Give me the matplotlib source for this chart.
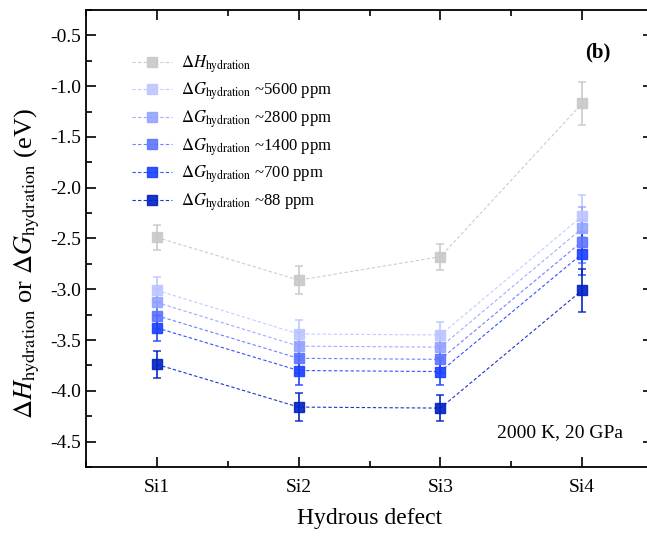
import matplotlib
matplotlib.use("Agg")
import matplotlib.pyplot as plt
from matplotlib.ticker import MultipleLocator
from matplotlib.lines import Line2D

plt.rcParams['font.family'] = ['Liberation Serif', 'DejaVu Serif']
plt.rcParams['mathtext.fontset'] = 'stix'

categories = ['Si1', 'Si2', 'Si3', 'Si4']
x = [1, 2, 3, 4]

dH = [-2.49, -2.91, -2.68, -1.17]
dH_err = [0.125, 0.14, 0.13, 0.215]

dG_5600 = [-3.01, -3.44, -3.45, -2.28]
dG_2800 = [-3.13, -3.56, -3.57, -2.40]
dG_1400 = [-3.26, -3.68, -3.69, -2.53]
dG_700 = [-3.38, -3.80, -3.81, -2.65]
dG_88 = [-3.74, -4.16, -4.17, -3.01]
dG_err = [0.13, 0.14, 0.13, 0.21]

series = [
    (dH, dH_err, r'$\Delta H_{\rm hydration}$', '#c8c8c8'),
    (dG_5600, dG_err, r'$\Delta G_{\rm hydration}$ ~5600 ppm', '#bcc6ff'),
    (dG_2800, dG_err, r'$\Delta G_{\rm hydration}$ ~2800 ppm', '#94a4ff'),
    (dG_1400, dG_err, r'$\Delta G_{\rm hydration}$ ~1400 ppm', '#5c74ff'),
    (dG_700, dG_err, r'$\Delta G_{\rm hydration}$ ~700 ppm', '#1a40ff'),
    (dG_88, dG_err, r'$\Delta G_{\rm hydration}$ ~88 ppm', '#0020c4'),
]

fig = plt.figure(figsize=(6.47, 5.37), dpi=100)
ax = fig.add_axes([86/647, 70/537, 567/647, 457/537])

handles = []
for vals, err, lab, col in series:
    ax.errorbar(x, vals, yerr=err, fmt='s', color=col, ecolor=col, elinewidth=1.3,
                capsize=3, capthick=1.1, markersize=7.5, alpha=0.9, zorder=3,
                ls=(0, (3, 2)), lw=0.8)
    handles.append(Line2D([], [], color=col, marker='s', markersize=7, ls=(0, (3, 2)),
                          lw=0.8, alpha=0.9, label=lab))

ax.set_xlim(0.5, 4.5)
ax.set_ylim(-4.75, -0.25)
ax.set_xticks(x)
ax.set_xticklabels(categories)
ax.xaxis.set_minor_locator(MultipleLocator(0.5))
ax.yaxis.set_major_locator(MultipleLocator(0.5))
ax.yaxis.set_minor_locator(MultipleLocator(0.25))
ax.yaxis.set_major_formatter(matplotlib.ticker.FormatStrFormatter('%.1f'))
ax.tick_params(which='both', direction='in', top=True, right=True, width=1.2, labelsize=14)
ax.tick_params(which='major', length=7)
ax.tick_params(which='minor', length=4)
ax.tick_params(axis='x', pad=9)
for s in ax.spines.values():
    s.set_linewidth(1.3)

ax.set_xlabel('Hydrous defect', fontsize=17, labelpad=8)
ax.set_ylabel(r'$\Delta H_{\rm hydration}$ or $\Delta G_{\rm hydration}$ (eV)', fontsize=19)
ax.yaxis.set_label_coords(-0.078, 0.445)

fig.text(598/647, 1 - 52/537, '(b)', fontsize=15, fontweight='bold',
         ha='center', va='center')
fig.text(560/647, 1 - 433/537, '2000 K, 20 GPa', fontsize=14,
         ha='center', va='center')

leg = ax.legend(handles=handles, loc='upper left', bbox_to_anchor=(0.07, 0.92), frameon=False,
                fontsize=12, handlelength=2.4, labelspacing=0.36, handletextpad=0.5,
                borderaxespad=0)

fig.savefig('out.png', dpi=100)
